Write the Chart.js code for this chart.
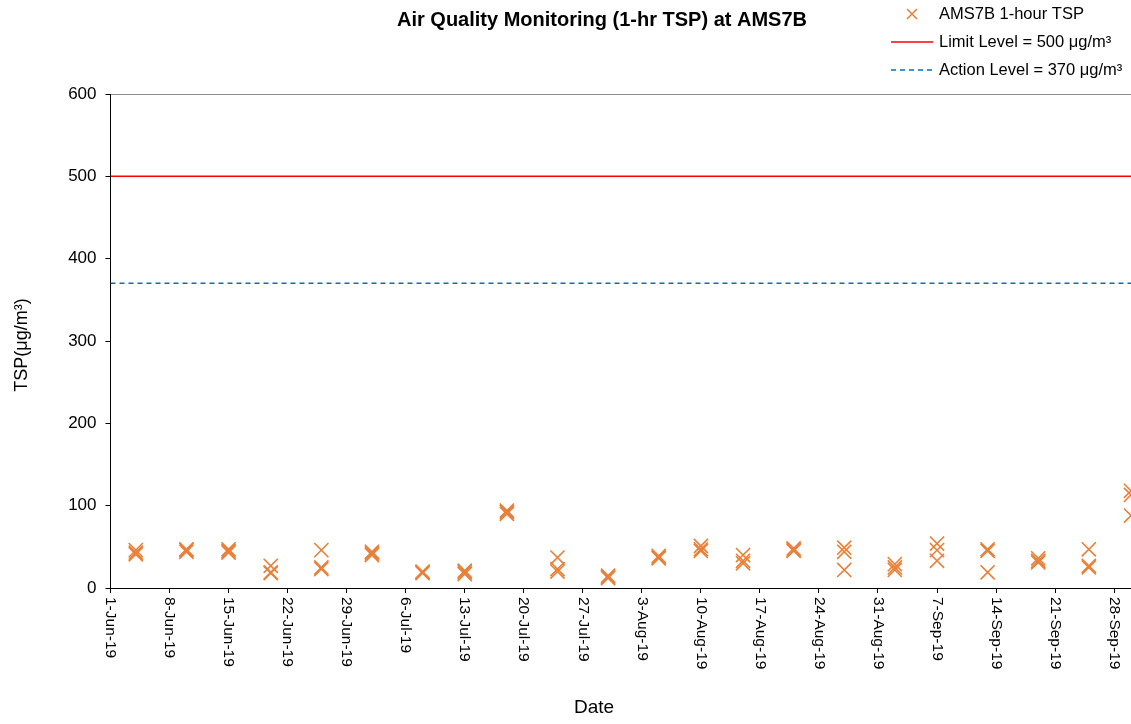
<!DOCTYPE html>
<html><head><meta charset="utf-8">
<script src="https://cdn.jsdelivr.net/npm/chart.js@4.4.0/dist/chart.umd.min.js"></script>
<style>html,body{margin:0;padding:0;background:#fff;overflow:hidden}#wrap{width:1131px;height:724px;position:relative}canvas{display:block}</style>
</head><body><div id="wrap"><canvas id="c" width="1131" height="724"></canvas></div>
<script>
// ---- data ----
const sampleDates = ['2019-06-04','2019-06-10','2019-06-15','2019-06-20','2019-06-26','2019-07-02','2019-07-08','2019-07-13','2019-07-18','2019-07-24','2019-07-30','2019-08-05','2019-08-10','2019-08-15','2019-08-21','2019-08-27','2019-09-02','2019-09-07','2019-09-13','2019-09-19','2019-09-25','2019-09-30'];
const tspReading1 = [46,47,47,27,46,44,20,21,94,37,15,39,51,40,48,49,29,54,47,36,47,118];
const tspReading2 = [43,46,45,19,25,42,19,19,92,23,13,37,47,33,46,44,25,46,45,33,27,113];
const tspReading3 = [41,44,43,18,23,40,18,17,90,20,12,36,45,30,45,22,22,33,19,31,25,88];
const xTickLabels = ['1-Jun-19','8-Jun-19','15-Jun-19','22-Jun-19','29-Jun-19','6-Jul-19','13-Jul-19','20-Jul-19','27-Jul-19','3-Aug-19','10-Aug-19','17-Aug-19','24-Aug-19','31-Aug-19','7-Sep-19','14-Sep-19','21-Sep-19','28-Sep-19'];
const yTickValues = [0,100,200,300,400,500,600];
const limitLevel = 500;
const actionLevel = 370;
const axisStart = '2019-06-01';
const axisEnd = '2019-09-30';

// ---- helpers ----
const MS_DAY = 86400000;
const MONTHS = {Jan:0,Feb:1,Mar:2,Apr:3,May:4,Jun:5,Jul:6,Aug:7,Sep:8,Oct:9,Nov:10,Dec:11};
function isoDay(s){const [y,m,d]=s.split('-').map(Number);return Math.round((Date.UTC(y,m-1,d)-Date.UTC(2019,5,1))/MS_DAY);}
function labelDay(l){const [d,mo,y]=l.split('-');return Math.round((Date.UTC(2000+Number(y),MONTHS[mo],Number(d))-Date.UTC(2019,5,1))/MS_DAY);}
const xMin = isoDay(axisStart), xMax = isoDay(axisEnd);
const tickDays = xTickLabels.map(labelDay);
const points = [];
[tspReading1,tspReading2,tspReading3].forEach(arr=>arr.forEach((v,i)=>points.push({x:isoDay(sampleDates[i]),y:v})));

const ORANGE = '#E8803A', RED = '#FF0000', BLUE = '#0070C0';
const FONT = "'Liberation Sans', Arial, sans-serif";

const textPlugin = {
  id:'textPlugin',
  afterDraw(chart){
    const ctx = chart.ctx, xs = chart.scales.x;
    ctx.save();
    ctx.fillStyle = '#000';
    // title
    ctx.font = "bold 20px " + FONT;
    ctx.textAlign='center'; ctx.textBaseline='middle';
    ctx.fillText('Air Quality Monitoring (1-hr TSP) at AMS7B', 602, 20);
    // x tick labels rotated clockwise
    ctx.font = "15.5px " + FONT;
    xTickLabels.forEach((lab,i)=>{
      const px = xs.getPixelForValue(tickDays[i]);
      ctx.save(); ctx.translate(px, 597); ctx.rotate(Math.PI/2);
      ctx.textAlign='left'; ctx.textBaseline='middle';
      ctx.fillText(lab,0,0); ctx.restore();
    });
    // axis titles
    ctx.font = "19px " + FONT;
    ctx.textAlign='center'; ctx.textBaseline='middle';
    ctx.fillText('Date', 594, 708);
    ctx.font = "18px " + FONT;
    ctx.save(); ctx.translate(22, 345); ctx.rotate(-Math.PI/2);
    ctx.fillText('TSP(\u03bcg/m\u00b3)',0,0); ctx.restore();
    // legend
    ctx.font = "16.5px " + FONT;
    ctx.textAlign='left'; ctx.textBaseline='middle';
    const lx = 939;
    ctx.strokeStyle = ORANGE; ctx.lineWidth = 1.5;
    const mx=912, my=14, r=5;
    ctx.beginPath(); ctx.moveTo(mx-r,my-r); ctx.lineTo(mx+r,my+r); ctx.moveTo(mx+r,my-r); ctx.lineTo(mx-r,my+r); ctx.stroke();
    ctx.fillText(chart.data.datasets[0].label, lx, 14);
    ctx.strokeStyle = RED; ctx.lineWidth = 1.5;
    ctx.beginPath(); ctx.moveTo(891,42); ctx.lineTo(933,42); ctx.stroke();
    ctx.fillText(chart.data.datasets[1].label, lx, 42);
    ctx.strokeStyle = BLUE; ctx.setLineDash([5,4]);
    ctx.beginPath(); ctx.moveTo(891,70); ctx.lineTo(933,70); ctx.stroke();
    ctx.setLineDash([]);
    ctx.fillText(chart.data.datasets[2].label, lx, 70);
    ctx.restore();
  }
};

new Chart(document.getElementById('c'), {
  type:'scatter',
  data:{datasets:[
    {label:'AMS7B 1-hour TSP', data:points, pointStyle:'crossRot', pointRadius:10, pointBorderWidth:1.6,
     borderColor:ORANGE, backgroundColor:ORANGE, showLine:false, order:0},
    {type:'line', label:'Limit Level = ' + limitLevel + ' \u03bcg/m\u00b3', data:[{x:xMin,y:limitLevel},{x:xMax,y:limitLevel}],
     borderColor:RED, borderWidth:1.5, pointRadius:0, fill:false, order:1},
    {type:'line', label:'Action Level = ' + actionLevel + ' \u03bcg/m\u00b3', data:[{x:xMin,y:actionLevel},{x:xMax,y:actionLevel}],
     borderColor:BLUE, borderWidth:1.5, borderDash:[5,4], pointRadius:0, fill:false, order:2}
  ]},
  options:{
    responsive:false, animation:false, devicePixelRatio:1,
    layout:{autoPadding:false, padding:{top:94,left:0,right:0,bottom:0}},
    plugins:{legend:{display:false}, title:{display:false}, tooltip:{enabled:false}},
    scales:{
      x:{type:'linear', min:xMin, max:xMax,
        afterBuildTicks(s){ s.ticks = tickDays.map(v=>({value:v})); },
        afterFit(s){ s.height = 136; },
        ticks:{display:false},
        grid:{drawOnChartArea:false, drawTicks:true, tickLength:5, tickColor:'#000', tickWidth:1},
        border:{color:'#000', width:1}},
      y:{type:'linear', min:0, max:600,
        afterBuildTicks(s){ s.ticks = yTickValues.map(v=>({value:v})); },
        afterFit(s){ s.width = 110.5; },
        ticks:{font:{family:FONT, size:17}, color:'#000', padding:9},
        grid:{drawOnChartArea:true, color:(c)=> (c.tick && c.tick.value===600) ? '#8c8c8c' : 'rgba(0,0,0,0)',
              tickColor:'#000', tickLength:5, drawTicks:true},
        border:{color:'#000', width:1}}
    }
  },
  plugins:[textPlugin]
});
</script></body></html>
